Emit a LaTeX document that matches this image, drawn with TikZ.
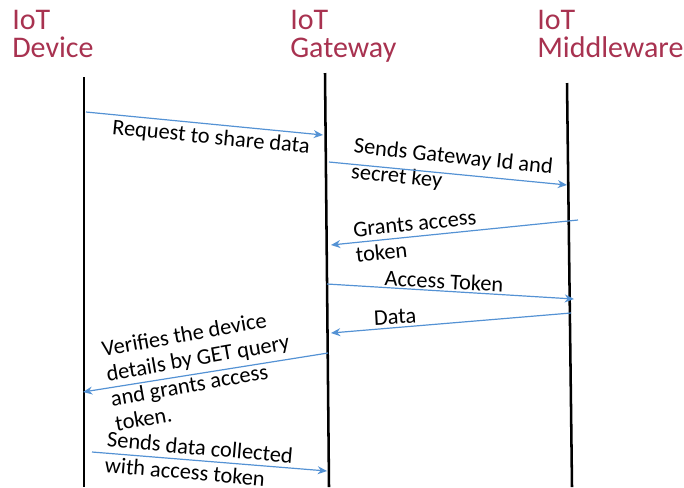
\documentclass[tikz,border=0pt]{standalone}
\usepackage{fontspec}
\setmainfont{Carlito}
\usepackage{tikz}
\usetikzlibrary{arrows.meta}
\definecolor{headred}{RGB}{168,50,80}
\definecolor{msgblue}{RGB}{84,146,212}

\begin{document}
\begin{tikzpicture}[x=0.75pt, y=-0.75pt,
		head/.style={anchor=north west, align=left, text=headred, font=\fontsize{22.5}{21}\selectfont, inner sep=0pt},
		lifeline/.style={line width=1.9pt},
		msg/.style={draw=msgblue, line width=0.9pt, -{Stealth[length=7pt, width=6pt]}},
		lbl/.style={align=left, font=\fontsize{16.8}{19}\selectfont, inner sep=0pt}]
				\useasboundingbox (0,0) rectangle (684,487);
				\node (hdev) [head] at (12,10) {IoT\\Device};
				\node (hgw) [head] at (290,10) {IoT\\Gateway};
				\node (hmw) [head] at (537,10) {IoT\\Middleware};
				
				% Lifelines
				\coordinate (devTop) at (84,77);
				\coordinate (devBot) at (84,487);
				\coordinate (gwTop) at (325,73);
				\coordinate (gwBot) at (329,487);
				\coordinate (mwTop) at (567,83);
				\coordinate (mwBot) at (572,487);
				\draw[lifeline] (devTop) -- (devBot);
				\draw[lifeline] (gwTop) -- (gwBot);
				\draw[lifeline] (mwTop) -- (mwBot);
				
				% Message ends
				\coordinate (m1a) at (86,112);  \coordinate (m1b) at (323,135);
				\coordinate (m2a) at (329,162); \coordinate (m2b) at (567,185);
				\coordinate (m3a) at (578,220); \coordinate (m3b) at (331,245);
				\coordinate (m4a) at (327,284); \coordinate (m4b) at (574,299);
				\coordinate (m5a) at (571,313); \coordinate (m5b) at (331,333);
				\coordinate (m6a) at (328,353); \coordinate (m6b) at (83,392);
				\coordinate (m7a) at (92,452);  \coordinate (m7b) at (327,471);
				
				% Labels
				\node (l1) [lbl, rotate=-5.5] at (211,138) {Request to share data};
				\node (l2) [lbl, rotate=-6] at (452,170) {Sends Gateway Id and\\secret key};
				\node (l3) [lbl, rotate=6] at (416,236) {Grants access\\token};
				\node (l4) [lbl, rotate=-3] at (444,281) {Access Token};
				\node (l5) [lbl, rotate=3] at (395,317) {Data};
				\node (l6) [lbl, rotate=10] at (200,370) {Verifies the device\\details by GET query\\and grants access\\token.};
				\node (l7) [lbl, rotate=-5] at (199,460) {Sends data collected\\with access token};
				
				% Arrows
				\draw[msg] (m1a) -- (m1b);
				\draw[msg] (m2a) -- (m2b);
				\draw[msg] (m3a) -- (m3b);
				\draw[msg] (m4a) -- (m4b);
				\draw[msg] (m5a) -- (m5b);
				\draw[msg] (m6a) -- (m6b);
				\draw[msg] (m7a) -- (m7b);
			\end{tikzpicture}
\end{document}
